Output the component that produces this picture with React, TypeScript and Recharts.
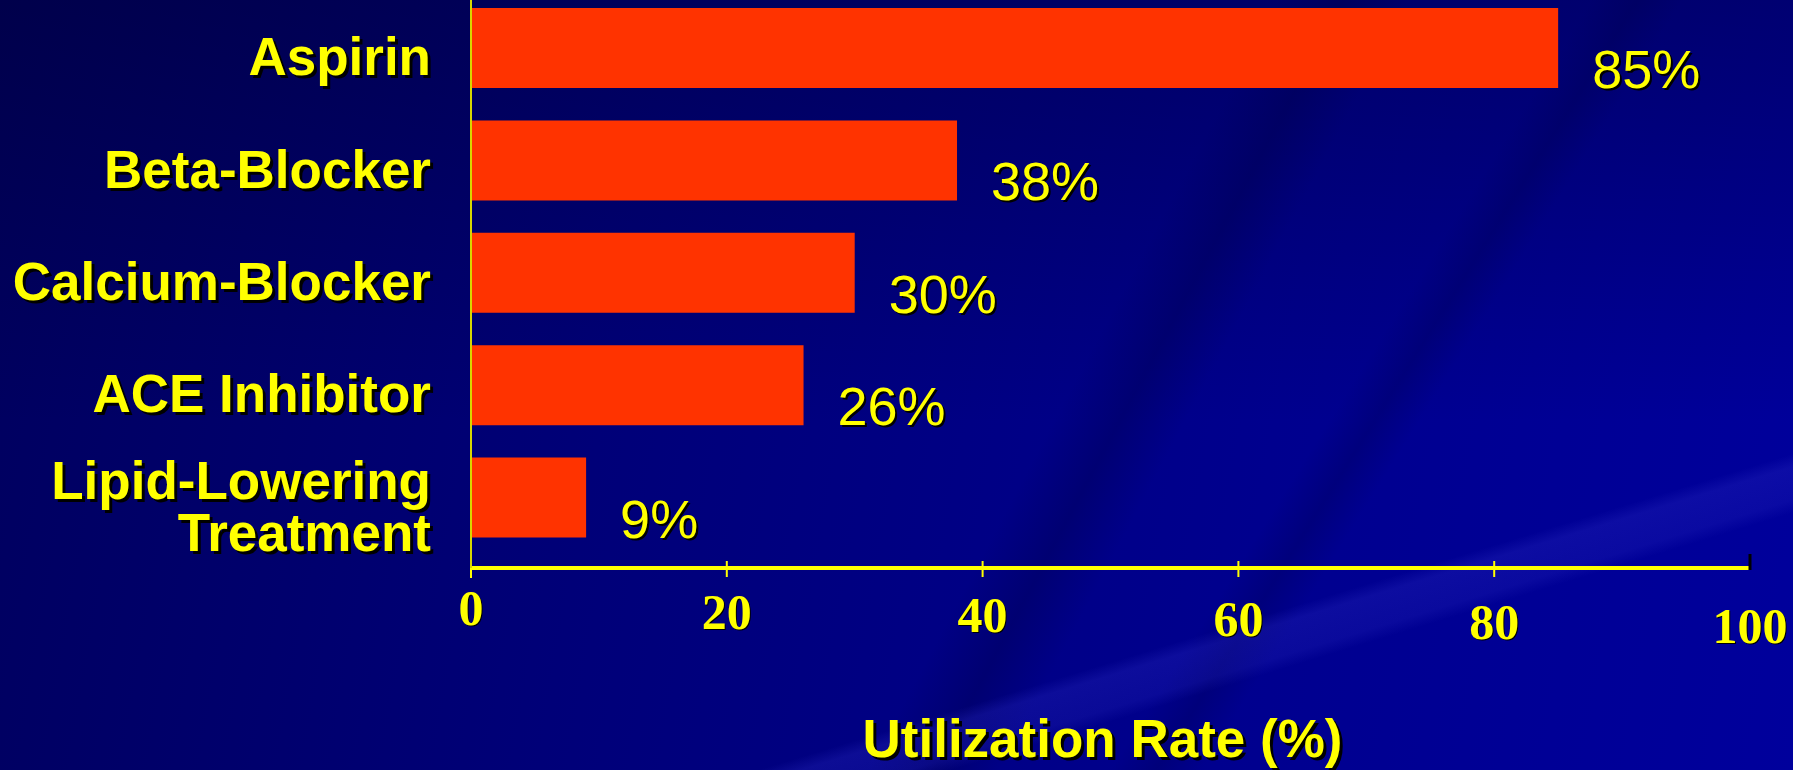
import { BarChart, Bar, XAxis, YAxis, LabelList } from 'recharts';

const drugs = ['Aspirin', 'Beta-Blocker', 'Calcium-Blocker', 'ACE Inhibitor', 'Lipid-Lowering\nTreatment'];
const utilization = [85, 38, 30, 26, 9];
const xTicks = [0, 20, 40, 60, 80, 100];
const axisTitle = 'Utilization Rate (%)';

const data = drugs.map((name, i) => ({ name, value: utilization[i] }));

const YELLOW = '#ffff00';
const SANS = '"Liberation Sans", Arial, sans-serif';
const SERIF = '"Liberation Serif", "Times New Roman", serif';

// text with the hard black drop shadow the slide uses; lines are tspans of one text
const ShadowText = ({ x, y, lines, anchor = 'start', size = 53, weight = 'bold', family = SANS, off = 3, lineGap = 52 }: any) => {
  const rows: string[] = Array.isArray(lines) ? lines : [String(lines)];
  const draw = (dx: number, fill: string) => (
    <text x={x + dx} y={y + dx} textAnchor={anchor} fontSize={size} fontWeight={weight} fontFamily={family} fill={fill}>
      {rows.map((r, i) => (
        <tspan key={i} x={x + dx} dy={i === 0 ? 0 : lineGap}>
          {r}
        </tspan>
      ))}
    </text>
  );
  return (
    <g>
      {draw(off, '#000000')}
      {draw(0, YELLOW)}
    </g>
  );
};

const DrugTick = ({ x, y, payload }: any) => {
  const lines = String(payload.value).split('\n');
  return <ShadowText x={x - 40} y={y + 27 - ((lines.length - 1) / 2) * 52} lines={lines} anchor="end" />;
};

const RateTick = ({ x, y, payload, index }: any) => {
  const last = payload.value === 100;
  return (
    <g>
      {payload.value === 0 && <line x1={x} x2={x} y1={y} y2={y + 10} stroke={YELLOW} strokeWidth={2} />}
      {payload.value > 0 && !last && <line x1={x} x2={x} y1={y - 7} y2={y + 9} stroke={YELLOW} strokeWidth={2} />}
      {last && <line x1={x} x2={x} y1={y - 14} y2={y + 2} stroke="#000000" strokeWidth={3} />}
      <ShadowText x={x} y={y + 57 + index * 3.6} lines={String(payload.value)} anchor="middle" size={50} family={SERIF} off={1} />
    </g>
  );
};

const ValueLabel = ({ x, y, width, height, value }: any) => (
  <ShadowText x={x + width + 34} y={y + height} lines={`${value}%`} size={54} weight="normal" off={2} />
);

const AxisTitle = ({ viewBox }: any) => (
  <ShadowText x={viewBox.x + viewBox.width / 2 - 8} y={viewBox.y + 189} lines={axisTitle} anchor="middle" size={53} />
);

export default function App() {
  return (
    <div
      style={{
        width: 1793,
        height: 770,
        overflow: 'hidden',
        background: [
          'linear-gradient(163deg, rgba(0,0,0,0) 76%, rgba(40,40,190,0.32) 77%, rgba(40,40,190,0.25) 79.5%, rgba(0,0,0,0) 80.5%)',
          'linear-gradient(118deg, rgba(0,0,0,0) 58%, rgba(0,0,60,0.28) 61%, rgba(0,0,0,0) 64%)',
          'linear-gradient(122deg, rgba(0,0,0,0) 70%, rgba(0,0,70,0.25) 72%, rgba(0,0,0,0) 74%)',
          'linear-gradient(180deg, rgba(0,0,40,0.35) 0%, rgba(0,0,40,0) 55%)',
          'linear-gradient(100deg, #00005e 0%, #000078 35%, #00008e 70%, #00009c 100%)',
        ].join(', '),
      }}
    >
      <style>{'body{margin:0}'}</style>
      <BarChart
        width={1793}
        height={770}
        data={data}
        layout="vertical"
        barSize={80}
        margin={{ top: -8, right: 43, bottom: 0, left: 0 }}
      >
        <XAxis
          type="number"
          domain={[0, 100]}
          ticks={xTicks}
          interval={0}
          height={202}
          tickSize={0}
          tickMargin={0}
          axisLine={{ stroke: YELLOW, strokeWidth: 4 }}
          tick={<RateTick />}
          label={<AxisTitle />}
        />
        <YAxis
          type="category"
          dataKey="name"
          width={471}
          tickSize={0}
          tickMargin={0}
          padding={{ top: 0, bottom: 14 }}
          axisLine={{ stroke: '#d8d800', strokeWidth: 2 }}
          tick={<DrugTick />}
          interval={0}
        />
        <Bar dataKey="value" fill="#ff3300" isAnimationActive={false}>
          <LabelList dataKey="value" content={<ValueLabel />} />
        </Bar>
      </BarChart>
    </div>
  );
}
